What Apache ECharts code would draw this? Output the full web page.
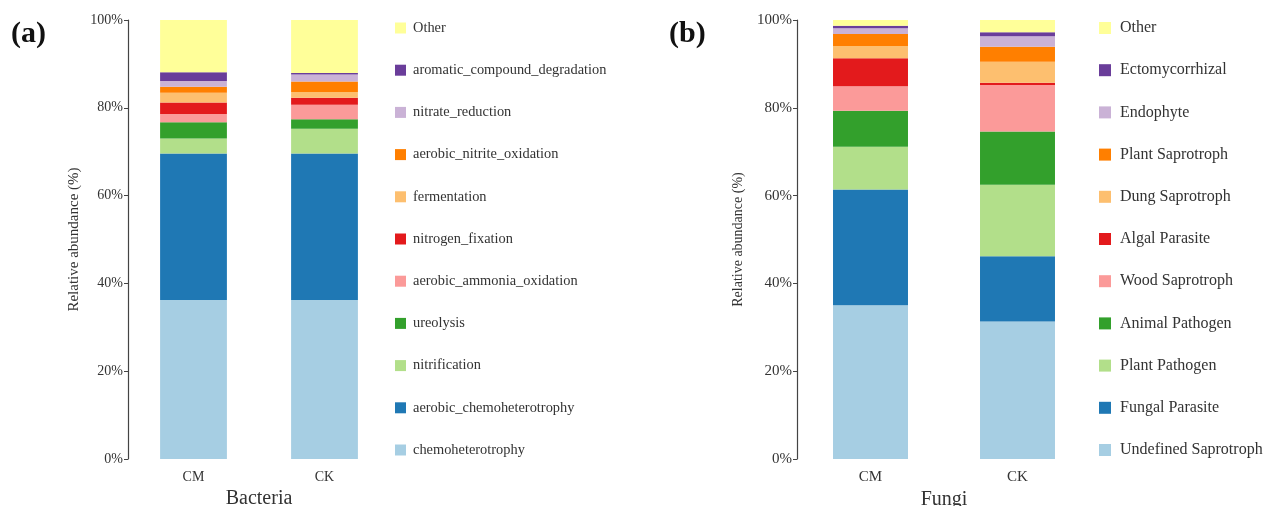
<!DOCTYPE html>
<html>
<head>
<meta charset="utf-8">
<script src="https://cdn.jsdelivr.net/npm/echarts@6/dist/echarts.min.js"></script>
<style>
  html, body { margin: 0; padding: 0; background: #fff; }
  #chart { width: 1266px; height: 506px; }
</style>
</head>
<body>
<div id="chart"></div>
<script>
// Sample groups on the x axis
const categories = ['CM', 'CK'];

// Bacterial functional groups, bottom of the stack first
const bacteriaNames = [
  'chemoheterotrophy', 'aerobic_chemoheterotrophy', 'nitrification', 'ureolysis',
  'aerobic_ammonia_oxidation', 'nitrogen_fixation', 'fermentation',
  'aerobic_nitrite_oxidation', 'nitrate_reduction', 'aromatic_compound_degradation', 'Other'
];
const bacteriaCM = [36.2, 33.4, 3.4, 3.7, 1.9, 2.6, 2.2, 1.4, 1.3, 2.0, 11.9];
const bacteriaCK = [36.2, 33.4, 5.6, 2.2, 3.3, 1.6, 1.3, 2.4, 1.6, 0.3, 12.1];

// Fungal guilds, bottom of the stack first
const fungiNames = [
  'Undefined Saprotroph', 'Fungal Parasite', 'Plant Pathogen', 'Animal Pathogen',
  'Wood Saprotroph', 'Algal Parasite', 'Dung Saprotroph', 'Plant Saprotroph',
  'Endophyte', 'Ectomycorrhizal', 'Other'
];
const fungiCM = [35.0, 26.4, 9.7, 8.2, 5.6, 6.4, 2.8, 2.7, 1.3, 0.6, 1.3];
const fungiCK = [31.3, 14.9, 16.3, 12.1, 10.6, 0.5, 4.8, 3.4, 2.4, 0.9, 2.8];

// Y axis ticks (percent)
const yTicks = [0, 20, 40, 60, 80, 100];

const palette = ['#A6CEE3', '#1F78B4', '#B2DF8A', '#33A02C', '#FB9A99', '#E31A1C',
                 '#FDBF6F', '#FF7F00', '#CAB2D6', '#6A3D9A', '#FFFF99'];

const serif = "'Liberation Serif', 'Times New Roman', serif";
const textColor = '#333';

function buildSeries(names, cm, ck, axisIndex, stack) {
  return names.map((name, i) => ({
    name: name,
    type: 'bar',
    stack: stack,
    xAxisIndex: axisIndex,
    yAxisIndex: axisIndex,
    barWidth: '51%',
    itemStyle: { color: palette[i] },
    emphasis: { disabled: true },
    data: [cm[i], ck[i]]
  }));
}

function yAxisDef(gridIndex, nameGap, labelSize, nameSize) {
  return {
    gridIndex: gridIndex,
    type: 'value',
    min: yTicks[0],
    max: yTicks[yTicks.length - 1],
    interval: yTicks[1] - yTicks[0],
    name: 'Relative abundance (%)',
    nameLocation: 'middle',
    nameGap: nameGap,
    nameTextStyle: { fontFamily: serif, fontSize: nameSize, color: textColor },
    axisLine: { show: true, lineStyle: { color: '#444', width: 1.2 } },
    axisTick: { show: true, length: 4, lineStyle: { color: '#444' } },
    axisLabel: { formatter: '{value}%', fontFamily: serif, fontSize: labelSize, color: textColor, margin: 5 },
    splitLine: { show: false }
  };
}

function xAxisDef(gridIndex, name, labelSize) {
  return {
    gridIndex: gridIndex,
    type: 'category',
    data: categories,
    name: name,
    nameLocation: 'middle',
    nameGap: 25,
    nameTextStyle: { fontFamily: serif, fontSize: 20, color: textColor },
    axisLine: { show: false },
    axisTick: { show: false },
    axisLabel: { fontFamily: serif, fontSize: labelSize, color: textColor, margin: 11 }
  };
}

// Square legend swatch inside a slightly wider icon box, so the label sits a bit further right
function legendDef(names, left, fontSize, square, boxWidth) {
  return {
    orient: 'vertical',
    left: left,
    top: 20,
    padding: 0,
    itemWidth: boxWidth,
    itemHeight: square,
    itemGap: 26.2,
    icon: 'path://M0,0H10V10H0Z',
    symbolKeepAspect: true,
    selectedMode: false,
    data: names.slice().reverse(),
    textStyle: { fontFamily: serif, fontSize: fontSize, color: textColor, lineHeight: 16 }
  };
}

const chart = echarts.init(document.getElementById('chart'), null, { renderer: 'canvas' });
chart.setOption({
  animation: false,
  backgroundColor: '#fff',
  title: [
    { text: '(a)', left: 6, top: 14, textStyle: { fontFamily: serif, fontSize: 30, fontWeight: 'bold', color: '#111' } },
    { text: '(b)', left: 664, top: 14, textStyle: { fontFamily: serif, fontSize: 30, fontWeight: 'bold', color: '#111' } }
  ],
  grid: [
    { left: 128, top: 20, width: 262, bottom: 47, outerBoundsMode: 'none' },
    { left: 797, top: 20, width: 294, bottom: 47, outerBoundsMode: 'none' }
  ],
  xAxis: [xAxisDef(0, 'Bacteria', 14), xAxisDef(1, 'Fungi', 15)],
  yAxis: [yAxisDef(0, 46, 14, 15), yAxisDef(1, 52, 15, 14)],
  legend: [
    legendDef(bacteriaNames, 395, 14.4, 11, 15),
    legendDef(fungiNames, 1099, 16, 12, 20)
  ],
  series: buildSeries(bacteriaNames, bacteriaCM, bacteriaCK, 0, 'bacteria')
    .concat(buildSeries(fungiNames, fungiCM, fungiCK, 1, 'fungi'))
});
</script>
</body>
</html>
